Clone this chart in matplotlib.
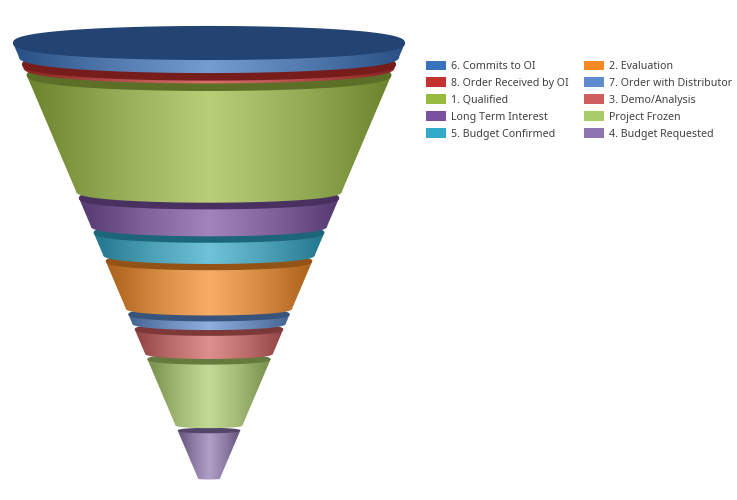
import numpy as np
import matplotlib
matplotlib.use("Agg")
import matplotlib.pyplot as plt
from matplotlib.colors import to_rgb, LinearSegmentedColormap
from matplotlib.patches import Patch, Polygon

# Data: stage names and their heights in the funnel
stages = ["6. Commits to OI", "8. Order Received by OI", "1. Qualified", "Long Term Interest",
          "5. Budget Confirmed", "2. Evaluation", "7. Order with Distributor",
          "3. Demo/Analysis", "Project Frozen", "4. Budget Requested"]
values = [13.5, 3, 116, 28, 22, 47, 9, 24, 66, 48]
colors = ["#3A72BE", "#C4312F", "#98BB3F", "#7A50A0", "#31A9C9",
          "#F58A25", "#5F8CCF", "#CF5F5E", "#A8CB68", "#8E75AF"]

TOP_Y = 43.0
CX = 209.0
TOP_HW = 196.0
SLOPE = 0.425
ELL = 0.087

plt.rcParams['font.family'] = ['Noto Sans', 'DejaVu Sans']
fig = plt.figure(figsize=(7.37, 5), dpi=100)
ax = fig.add_axes([0, 0, 1, 1])
ax.axis('off')


def hw(y):
    return TOP_HW - SLOPE * (y - TOP_Y)


def arc(y, front=True, n=160):
    a = hw(y)
    b = a * ELL
    t = np.linspace(np.pi, 0, n) if front else np.linspace(0, np.pi, n)
    bulge = np.abs(np.sin(t)) ** 0.8
    return np.column_stack([CX + a * np.cos(t), y + (b if front else -b) * bulge])


tops, bottoms = [], []
y = TOP_Y
for v in values:
    tops.append(y)
    bottoms.append(y + v)
    y = y + v + 4.8 + 0.016 * hw(y + v)

for top, bot, col in list(zip(tops, bottoms, colors))[::-1]:
    base = np.array(to_rgb(col))
    centre = base + (1 - base) * 0.30
    edge = base * 0.70
    dark = base * 0.60
    a0 = hw(top)
    outline = np.vstack([[[CX - a0, top]], arc(bot, True), [[CX + a0, top]]])
    mid = edge * 0.45 + centre * 0.55
    cmap = LinearSegmentedColormap.from_list("g", [edge, mid, centre, mid, edge])
    xs = np.linspace(0, 1, 256)
    im = ax.imshow(xs[None, :], cmap=cmap, aspect='auto', interpolation='bilinear',
                   extent=[CX - a0, CX + a0, bot + a0 * ELL + 2, top - 1], zorder=2)
    body = Polygon(outline, closed=True, transform=ax.transData, fc='none', ec='none')
    ax.add_patch(body)
    im.set_clip_path(body)
    ax.add_patch(Polygon(np.vstack([arc(top, True), arc(top, False)]), closed=True,
                         fc=dark, ec='none', zorder=2))

ax.set_xlim(0, 737)
ax.set_ylim(500, 0)

handles = [Patch(fc=c, ec='none') for c in colors]
fig.legend(handles, stages, ncol=2, loc='upper left',
           bbox_to_anchor=(426 / 737, 1 - 60.5 / 500), frameon=False, fontsize=7.65,
           labelcolor='#404040', handlelength=1.88, handleheight=1.03, handletextpad=0.47,
           columnspacing=1.41, labelspacing=0.51, borderpad=0, borderaxespad=0)

fig.savefig("out.png", dpi=100)
